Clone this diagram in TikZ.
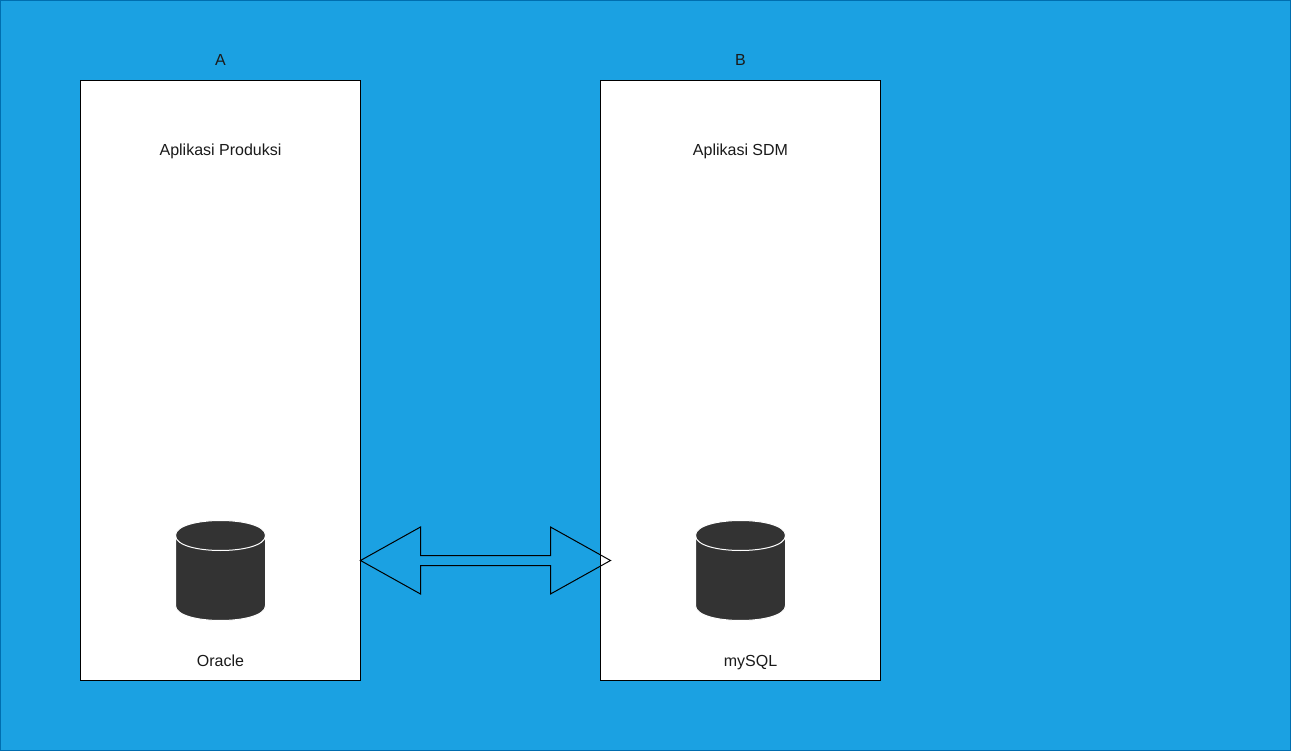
\documentclass[tikz,border=0pt]{standalone}
\usepackage{fontspec}
\setmainfont{Liberation Sans}
\definecolor{bgblue}{HTML}{1BA1E2}
\definecolor{bgedge}{HTML}{006EAF}
\definecolor{cyl}{HTML}{333333}
\definecolor{txt}{HTML}{1A1A1A}
\tikzset{
  panel/.style={draw=black,fill=white,line width=1pt,minimum width=280pt,minimum height=600pt,inner sep=0pt,outer sep=0pt,anchor=north west},
  lbl/.style={text=txt,font=\fontsize{16pt}{18pt}\selectfont,inner sep=0pt,anchor=base},
  cylbody/.style={fill=cyl,draw=white,line width=1pt},
  cylline/.style={draw=white,line width=1pt},
  arrowline/.style={draw=black,line width=1pt,line join=miter,fill=none}
}
\begin{document}
\begin{tikzpicture}[x=1pt,y=-1pt]
\useasboundingbox (0,0) rectangle (1291,751);
\fill[bgblue] (0,0) rectangle (1291,751);
\draw[bgedge,line width=1pt] (0.5,0.5) rectangle (1290.5,750.5);
\node[panel] (boxA) at (80.5,80.5) {};
\node[panel] (boxB) at (600.5,80.5) {};
\node[lbl] (labA) at (220.5,66) {A};
\node[lbl] (labB) at (740.5,66) {B};
\node[lbl] (appA) at (220.5,156) {Aplikasi Produksi};
\node[lbl] (appB) at (740.5,156) {Aplikasi SDM};
\node[lbl] (dbA) at (220.5,666) {Oracle};
\node[lbl] (dbB) at (750.5,666) {mySQL};
\foreach \cx in {175.5,695.5}{
  \begin{scope}[shift={(\cx,520.5)}]
    \path[cylbody] (0,15) .. controls (0,-5) and (90,-5) .. (90,15) -- (90,85) .. controls (90,105) and (0,105) .. (0,85) -- cycle;
    \draw[cylline] (0,15) .. controls (0,35) and (90,35) .. (90,15);
  \end{scope}
}
\draw[arrowline] (360.5,560.5) -- (420.5,527) -- (420.5,555.5) -- (550.5,555.5) -- (550.5,527) -- (610.5,560.5) -- (550.5,594) -- (550.5,565.5) -- (420.5,565.5) -- (420.5,594) -- cycle;
\end{tikzpicture}
\end{document}
